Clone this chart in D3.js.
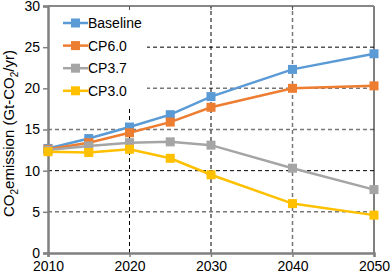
<!DOCTYPE html>
<html><head><meta charset="utf-8">
<script src="https://cdn.jsdelivr.net/npm/d3@7"></script>
<style>body{margin:0;background:#fff}svg{display:block}text{font-family:"Liberation Sans",Arial,sans-serif}</style>
</head><body>
<script>
const years = [2010, 2015, 2020, 2025, 2030, 2040, 2050];
const baseline = [12.7, 13.9, 15.3, 16.8, 19.0, 22.3, 24.2];
const cp60 = [12.6, 13.4, 14.6, 15.9, 17.7, 20.0, 20.3];
const cp37 = [12.5, 13.0, 13.4, 13.5, 13.1, 10.3, 7.7];
const cp30 = [12.3, 12.2, 12.6, 11.5, 9.5, 6.0, 4.6];
const seriesNames = ["Baseline", "CP6.0", "CP3.7", "CP3.0"];
const colors = ["#5B9BD5", "#ED7D31", "#A5A5A5", "#FFC000"];
const yTicks = [0, 5, 10, 15, 20, 25, 30];
const xTicks = [2010, 2020, 2030, 2040, 2050];

const W = 392, H = 277;
const m = {l: 48, r: 18, t: 6, b: 24};
const svg = d3.select("body").append("svg").attr("width", W).attr("height", H);
const x = d3.scaleLinear().domain([2010, 2050]).range([m.l, W - m.r]);
const y = d3.scaleLinear().domain([0, 30]).range([H - m.b, m.t]);

// gridlines
const hStyle = {5: "#777", 10: "#000", 15: "#777", 20: "#777", 25: "#000"};
const vStyle = {2020: "#000", 2030: "#000", 2040: "#777"};
svg.append("g").selectAll("line").data([5, 10, 15, 20, 25]).join("line")
  .attr("x1", x(2010)).attr("x2", x(2050)).attr("y1", d => y(d)).attr("y2", d => y(d))
  .attr("stroke", d => hStyle[d]).attr("stroke-width", d => hStyle[d] === "#000" ? 1 : 1.5)
  .attr("stroke-dasharray", "4,3");
svg.append("g").selectAll("line").data([2020, 2030, 2040]).join("line")
  .attr("x1", d => x(d)).attr("x2", d => x(d)).attr("y1", y(0)).attr("y2", y(30))
  .attr("stroke", d => vStyle[d]).attr("stroke-width", d => vStyle[d] === "#000" ? 1 : 1.5)
  .attr("stroke-dasharray", "4,3");

// legend background
svg.append("rect").attr("x", x(2010) + 1).attr("y", y(30) + 2).attr("width", 98).attr("height", 98).attr("fill", "#fff");

// frame
svg.append("line").attr("x1", x(2050)).attr("x2", x(2050)).attr("y1", y(0)).attr("y2", y(30)).attr("stroke", "#000").attr("stroke-width", 1);
svg.append("line").attr("x1", x(2010)).attr("x2", x(2050)).attr("y1", y(30)).attr("y2", y(30)).attr("stroke", "#888").attr("stroke-width", 2);

// axes
const yAxis = svg.append("g").attr("transform", `translate(${x(2010)},0)`)
  .call(d3.axisLeft(y).tickValues(yTicks).tickSize(5).tickPadding(3));
const xAxis = svg.append("g").attr("transform", `translate(0,${y(0)})`)
  .call(d3.axisBottom(x).tickValues(xTicks).tickFormat(d3.format("d")).tickSize(4).tickPadding(4));
[yAxis, xAxis].forEach(g => {
  g.select(".domain").attr("stroke", "#808080").attr("stroke-width", 2.5);
  g.selectAll(".tick line").attr("stroke", "#808080").attr("stroke-width", 1.5);
  g.selectAll("text").attr("font-size", 14).attr("fill", "#000").attr("font-family", "Liberation Sans, Arial, sans-serif");
});
svg.append("g").selectAll("line").data([2020, 2030, 2040]).join("line")
  .attr("x1", d => x(d)).attr("x2", d => x(d)).attr("y1", y(30)).attr("y2", y(30) + 4)
  .attr("stroke", "#555").attr("stroke-width", 1);

// y label
const yl = svg.append("text").attr("transform", `translate(14,${(y(0) + y(30)) / 2 + 4}) rotate(-90)`)
  .attr("text-anchor", "middle").attr("font-size", 15).attr("fill", "#000");
yl.append("tspan").text("CO");
yl.append("tspan").text("2").attr("font-size", 10).attr("dy", 4);
yl.append("tspan").text("emission (Gt-CO").attr("dy", -4);
yl.append("tspan").text("2").attr("font-size", 10).attr("dy", 4);
yl.append("tspan").text("/yr)").attr("dy", -4);

// series
const data = [baseline, cp60, cp37, cp30];
const line = d3.line().x((d, i) => x(years[i])).y(d => y(d));
data.forEach((vals, k) => {
  const g = svg.append("g");
  g.append("path").datum(vals).attr("d", line).attr("fill", "none").attr("stroke", colors[k]).attr("stroke-width", 2.5);
  g.selectAll("rect").data(vals).join("rect")
    .attr("x", (d, i) => x(years[i]) - 4.5).attr("y", d => y(d) - 4.5)
    .attr("width", 9).attr("height", 9).attr("fill", colors[k]);
});

// legend
const lg = svg.append("g");
seriesNames.forEach((n, k) => {
  const ly = 23 + k * 22.6;
  lg.append("line").attr("x1", 63).attr("x2", 88).attr("y1", ly).attr("y2", ly).attr("stroke", colors[k]).attr("stroke-width", 2.5);
  lg.append("rect").attr("x", 71).attr("y", ly - 4.5).attr("width", 9).attr("height", 9).attr("fill", colors[k]);
  lg.append("text").attr("x", 88).attr("y", ly + 5).attr("font-size", 14).attr("fill", "#000").text(n);
});
</script>
</body></html>
